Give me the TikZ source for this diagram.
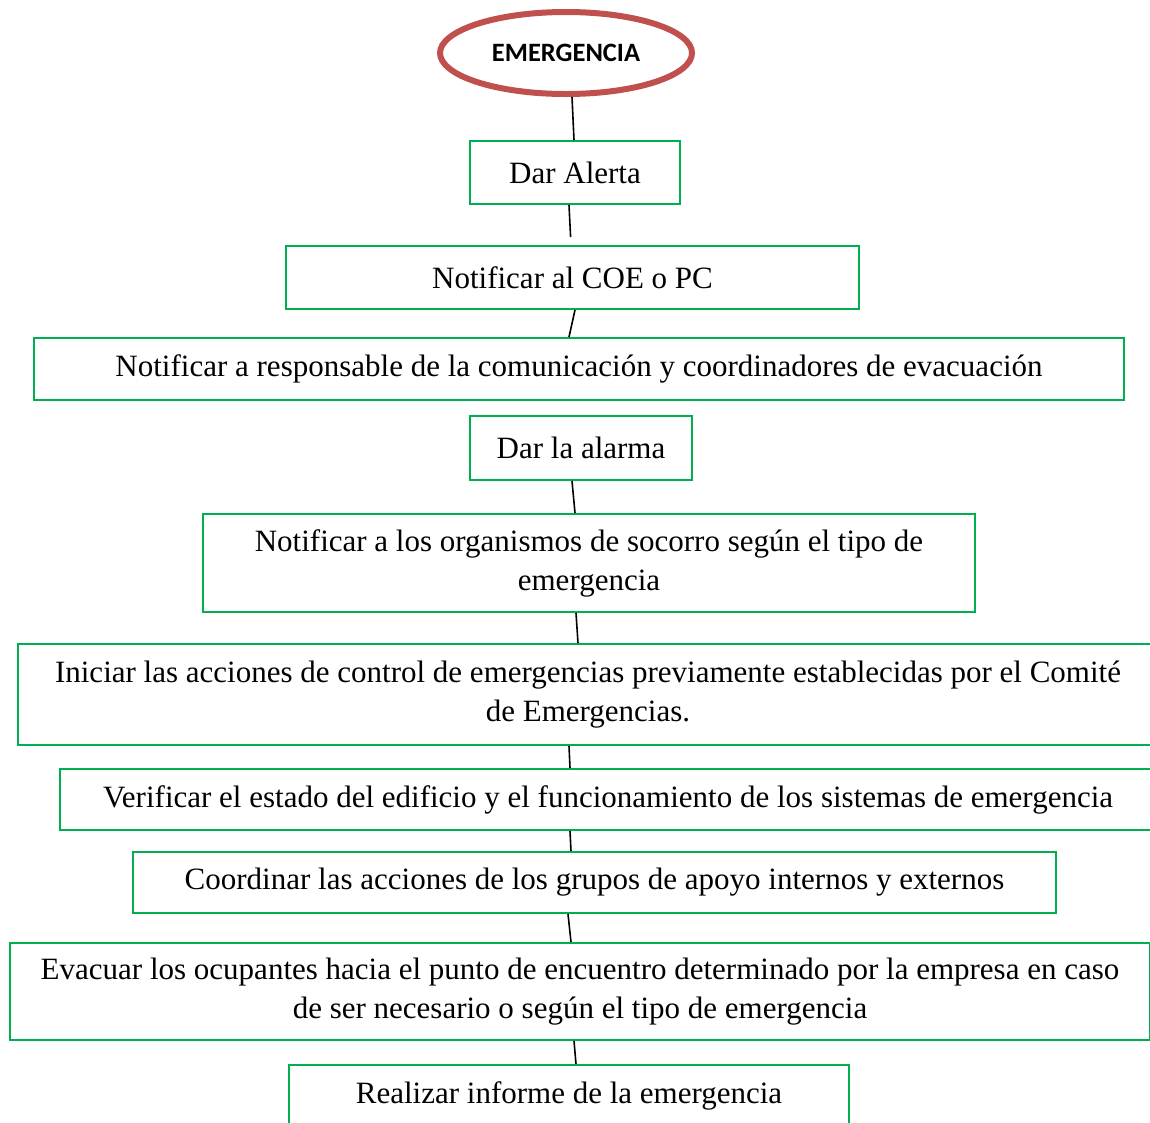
\documentclass[tikz,border=0pt]{standalone}
\usepackage{fontspec}
\usetikzlibrary{shapes.geometric}
\setmainfont{Liberation Serif}
\newfontfamily\titlefont{Carlito}
\definecolor{boxgreen}{RGB}{0,176,80}
\definecolor{ellred}{RGB}{192,80,77}

\begin{document}
\begin{tikzpicture}[x=1pt,y=-1pt,
  stepbox/.style={draw=boxgreen,line width=2pt,inner sep=0pt,align=center,
    font=\fontsize{31}{39}\selectfont},
  start/.style={ellipse,draw=ellred,line width=6pt,inner sep=0pt,
    font=\titlefont\bfseries\fontsize{26.5}{30}\selectfont},
  link/.style={draw=black,line width=1.6pt}]
  \useasboundingbox (0,0) rectangle (1150,1122);
  \clip (0,0) rectangle (1150,1122);

  \node[start,minimum width=252pt,minimum height=82pt] (emerg) at (566,53) {EMERGENCIA};
  \node[stepbox,minimum width=210pt,minimum height=63pt] (alerta) at (575,172.5) {Dar Alerta};
  \node[stepbox,minimum width=573pt,minimum height=63pt] (coe) at (572.5,277.5) {Notificar al COE o PC};
  \node[stepbox,minimum width=1090pt,minimum height=62pt] (resp) at (579,369)
    {Notificar a responsable de la comunicación y coordinadores de evacuación};
  \node[stepbox,minimum width=222pt,minimum height=64pt] (alarma) at (581,448) {Dar la alarma};
  \node[stepbox,minimum width=772pt,minimum height=98pt] (socorro) at (589,563)
    {Notificar a los organismos de socorro según el tipo de\\emergencia};
  \node[stepbox,minimum width=1140pt,minimum height=101pt] (iniciar) at (588,694.5)
    {Iniciar las acciones de control de emergencias previamente establecidas por el Comité\\de Emergencias.};
  \node[stepbox,minimum width=1096pt,minimum height=61pt] (verif) at (608,799.5)
    {Verificar el estado del edificio y el funcionamiento de los sistemas de emergencia};
  \node[stepbox,minimum width=923pt,minimum height=61pt] (coord) at (594.5,882.5)
    {Coordinar las acciones de los grupos de apoyo internos y externos};
  \node[stepbox,minimum width=1140pt,minimum height=97pt] (evac) at (580,991.5)
    {Evacuar los ocupantes hacia el punto de encuentro determinado por la empresa en caso\\de ser necesario o según el tipo de emergencia};
  \node[stepbox,minimum width=560pt,minimum height=61pt] (informe) at (569,1095.5)
    {Realizar informe de la emergencia};

  \draw[link] ([xshift=6pt]emerg.south) -- ([xshift=-1pt]alerta.north);
  \draw[link,shorten >=8pt] ([xshift=-6pt]alerta.south) -- ([xshift=-1.5pt]coe.north);
  \draw[link] ([xshift=2.5pt]coe.south) -- ([xshift=-10pt]resp.north);
  \draw[link] ([xshift=-9pt]alarma.south) -- ([xshift=-14pt]socorro.north);
  \draw[link] ([xshift=-13pt]socorro.south) -- ([xshift=-10pt]iniciar.north);
  \draw[link] ([xshift=-19pt]iniciar.south) -- ([xshift=-38pt]verif.north);
  \draw[link] ([xshift=-38pt]verif.south) -- ([xshift=-23.5pt]coord.north);
  \draw[link] ([xshift=-26.5pt]coord.south) -- ([xshift=-9pt]evac.north);
  \draw[link] ([xshift=-6pt]evac.south) -- ([xshift=7pt]informe.north);
\end{tikzpicture}
\end{document}
